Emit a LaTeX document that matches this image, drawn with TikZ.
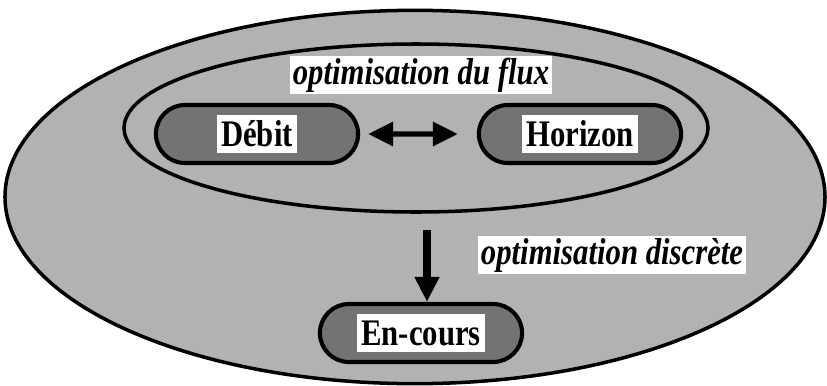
\documentclass[tikz,border=0pt]{standalone}
\usepackage{fontspec}
\setmainfont{Liberation Serif}
\usetikzlibrary{arrows.meta,shapes.misc,positioning}

\tikzset{
  zone/.style={draw=black, line width=3pt, fill=black!30},
  pill/.style={rounded rectangle, draw=black, line width=3.5pt, fill=black!55,
    minimum width=6.3cm, minimum height=1.74cm},
  tag/.style={fill=white, inner xsep=4pt, inner ysep=0pt, minimum height=1.14cm,
    transform shape, xscale=0.82,
    font=\fontsize{32}{36}\selectfont\bfseries},
  caption/.style={fill=white, inner xsep=3pt, inner ysep=0pt, minimum height=1.12cm,
    transform shape, xscale=0.82,
    font=\fontsize{32}{36}\selectfont\bfseries\itshape},
  link/.style={line width=4.5pt, -{Triangle[length=0.75cm,width=0.7cm]}},
}

\begin{document}
\begin{tikzpicture}[x=0.03cm, y=0.03cm]
  \useasboundingbox (0,0) rectangle (827,-385);

  % Draw the two zones
  \draw[zone] (415,-197) ellipse [x radius=12.3cm, y radius=5.6cm];
  \draw[zone] (416,-128) ellipse [x radius=8.76cm, y radius=2.52cm];

  % Variables
  \node[pill] (debit) at (257,-134) {};
  \node[tag] (debit txt) at (debit) {Débit};
  \node[pill] (horizon) at (580,-134) {};
  \node[tag] (horizon txt) at (horizon) {Horizon};
  \node[pill] (encours) at (421,-333) {};
  \node[tag] (encours txt) at (encours) {En-cours};

  % Zone captions
  \node[caption] (flux) at (421,-75) {optimisation du flux};
  \node[caption] (discrete) at (612,-255) {optimisation discrète};

  % Connect with arrows
  \coordinate (drop) at (427,-230);
  \draw[link, {Triangle[length=0.75cm,width=0.7cm]}-{Triangle[length=0.75cm,width=0.7cm]},
    shorten <=0.24cm, shorten >=0.57cm] (debit) -- (horizon);
  \draw[link, line width=6pt] (drop) -- (drop |- encours.north);
\end{tikzpicture}
\end{document}
